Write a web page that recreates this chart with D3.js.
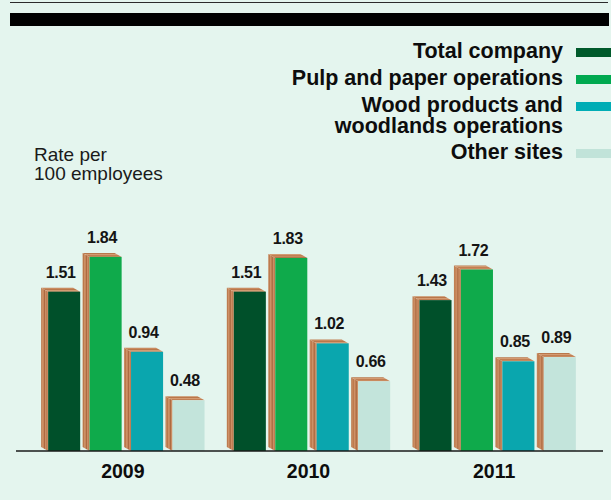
<!DOCTYPE html>
<html>
<head>
<meta charset="utf-8">
<script src="https://cdn.jsdelivr.net/npm/d3@7"></script>
<style>
  body { margin: 0; background: #e4f5ee; }
  svg { display: block; }
</style>
</head>
<body>
<svg id="chart" width="611" height="500"></svg>
<script>
// Injury rate per 100 employees, by operation type
const years = ["2009", "2010", "2011"];
const seriesNames = ["Total company", "Pulp and paper operations", "Wood products and woodlands operations", "Other sites"];
const legendLines = [["Total company"], ["Pulp and paper operations"], ["Wood products and", "woodlands operations"], ["Other sites"]];
const totalCompany = [1.51, 1.51, 1.43];
const pulpPaper = [1.84, 1.83, 1.72];
const woodProducts = [0.94, 1.02, 0.85];
const otherSites = [0.48, 0.66, 0.89];
const seriesValues = [totalCompany, pulpPaper, woodProducts, otherSites];
const seriesColors = ["#00502a", "#0faa4b", "#0aa6ae", "#c3e4db"];
const swatchColors = ["#005a2b", "#00a950", "#00adb5", "#c1e3d9"];
const axisTitle = ["Rate per", "100 employees"];

const svg = d3.select("#chart");
const W = 611, H = 500;

svg.append("rect").attr("width", W).attr("height", H).attr("fill", "#e4f5ee");

// Header rules
svg.append("line").attr("x1", 10).attr("x2", 608).attr("y1", 2.5).attr("y2", 2.5)
  .attr("stroke", "#2b2b2b").attr("stroke-width", 1);
svg.append("rect").attr("x", 10).attr("y", 13).attr("width", 599).attr("height", 13).attr("fill", "#000");

// Wood grain for the extruded sides of the bars
const defs = svg.append("defs");
const grain = ["#b87547", "#d0946a", "#c4855a", "#a9663d", "#cf9369", "#bd7b4f", "#c88a5f"];
const pat = defs.append("pattern").attr("id", "wood").attr("patternUnits", "userSpaceOnUse")
  .attr("width", grain.length).attr("height", 10);
grain.forEach((c, i) => pat.append("rect").attr("x", i).attr("y", 0).attr("width", 1).attr("height", 10).attr("fill", c));
const patTop = defs.append("pattern").attr("id", "woodTop").attr("patternUnits", "userSpaceOnUse")
  .attr("width", 10).attr("height", 4);
["#c98a5e", "#b9774b", "#d49b72", "#c17f53"].forEach((c, i) =>
  patTop.append("rect").attr("x", 0).attr("y", i).attr("width", 10).attr("height", 1).attr("fill", c));

// Scales
const baseY = 451;
const y = d3.scaleLinear().domain([0, 2]).range([baseY, 240]);
const x0 = d3.scaleBand().domain(years).range([30, 587]).paddingInner(0.12).paddingOuter(0.06);
const x1 = d3.scaleBand().domain(d3.range(seriesNames.length)).range([0, x0.bandwidth()]).paddingInner(0.058);

const dx = 7, dy = 4;
const bw = x1.bandwidth();

const groups = svg.append("g").selectAll("g").data(years).join("g")
  .attr("transform", d => `translate(${x0(d)},0)`);

groups.each(function (yr, yi) {
  const g = d3.select(this);
  seriesValues.forEach((vals, si) => {
    const v = vals[yi];
    const bx = x1(si);
    const yt = y(v);
    const base = y(0);
    // extruded wooden side + top
    g.append("polygon")
      .attr("points", [[bx + dx, yt], [bx, yt - dy], [bx, base - dy], [bx + dx, base]].map(p => p.join(",")).join(" "))
      .attr("fill", "url(#wood)");
    g.append("polygon")
      .attr("points", [[bx, yt - dy], [bx + bw - dx, yt - dy], [bx + bw, yt], [bx + dx, yt]].map(p => p.join(",")).join(" "))
      .attr("fill", "url(#woodTop)");
    // front face
    g.append("rect")
      .attr("x", bx + dx).attr("y", yt)
      .attr("width", bw - dx).attr("height", base - yt)
      .attr("fill", seriesColors[si]);
    // value label
    g.append("text")
      .attr("x", bx + bw / 2).attr("y", yt - dy - 10)
      .attr("text-anchor", "middle")
      .attr("font-family", "'Liberation Sans', Arial, sans-serif")
      .attr("font-weight", "bold").attr("font-size", 16)
      .attr("letter-spacing", -0.3)
      .attr("fill", "#141414")
      .text(v.toFixed(2));
  });
});

// Baseline
svg.append("line").attr("x1", 16).attr("x2", 603).attr("y1", baseY).attr("y2", baseY)
  .attr("stroke", "#1a1a1a").attr("stroke-width", 1.5);

// Year labels
const xAxis = svg.append("g").attr("transform", `translate(0,${baseY})`)
  .call(d3.axisBottom(x0).tickSize(0).tickPadding(13));
xAxis.select(".domain").remove();
xAxis.selectAll("text")
  .attr("font-family", "'Liberation Sans', Arial, sans-serif")
  .attr("font-weight", "bold").attr("font-size", 19.5).attr("fill", "#0d0d0d");

// Axis title
svg.append("text")
  .attr("font-family", "'Liberation Sans', Arial, sans-serif")
  .attr("font-size", 19).attr("fill", "#1a1a1a")
  .selectAll("tspan").data(axisTitle).join("tspan")
  .attr("x", 34).attr("y", (d, i) => 161 + i * 19)
  .text(d => d);

// Legend
const legend = svg.append("g");
let ly = 58;
legendLines.forEach((lines, i) => {
  legend.append("rect").attr("x", 576).attr("y", ly - 10).attr("width", 35).attr("height", 9)
    .attr("fill", swatchColors[i]);
  const t = legend.append("text")
    .attr("text-anchor", "end")
    .attr("font-family", "'Liberation Sans', Arial, sans-serif")
    .attr("font-weight", "bold").attr("font-size", 21.5).attr("fill", "#0d0d0d");
  lines.forEach((ln, j) => {
    t.append("tspan").attr("x", 563).attr("y", ly + j * 21).text(ln);
  });
  ly += 27 + (lines.length - 1) * 20;
});
</script>
</body>
</html>
